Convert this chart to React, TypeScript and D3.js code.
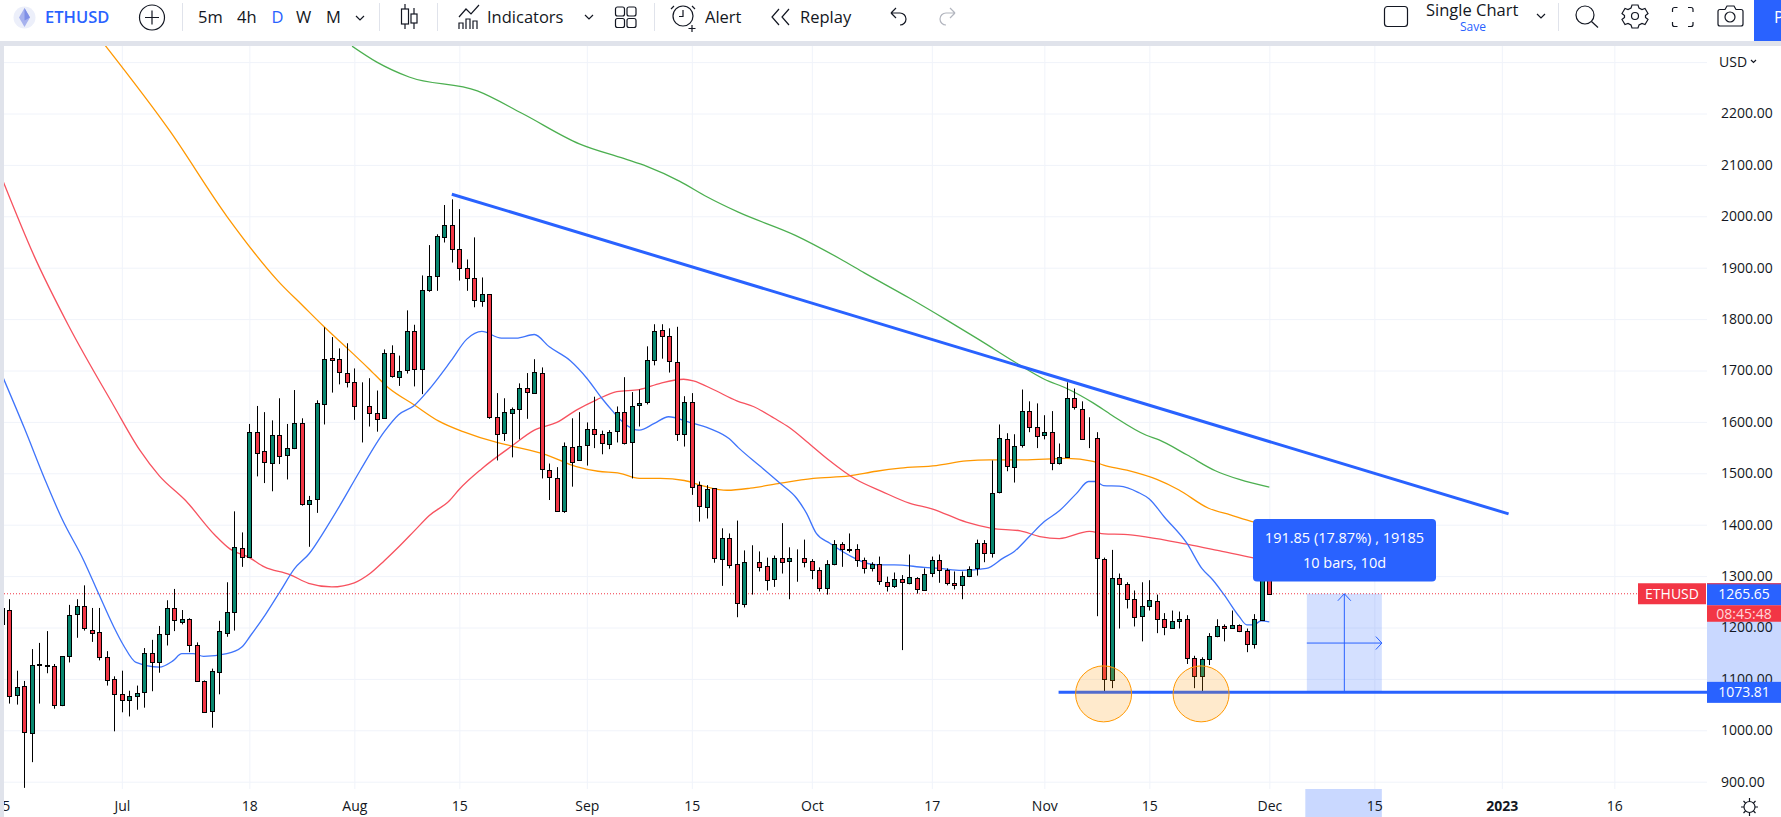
import React, { useRef, useEffect } from "react";
import * as d3 from "d3";

const WIDTH = 1781;
const HEIGHT = 817;
const FONT = "'Open Sans', sans-serif";

const firstBar = -1; // 15 Jun
const opens = [
  1237, 1235, 1068, 1086, 994, 1129, 1127, 1125, 1048, 1144,
  1225, 1241, 1196, 1191, 1142, 1100, 1071, 1059, 1066, 1074,
  1150, 1133, 1187, 1237, 1211, 1216, 1165, 1096, 1038, 1113,
  1191, 1231, 1355, 1338, 1581, 1543, 1520, 1574, 1536, 1549,
  1598, 1441, 1450, 1636, 1725, 1722, 1696, 1677, 1630, 1630,
  1617, 1609, 1735, 1689, 1700, 1776, 1702, 1856, 1883, 1961,
  1984, 1937, 1899, 1879, 1835, 1848, 1609, 1578, 1619, 1624,
  1665, 1658, 1696, 1506, 1490, 1427, 1552, 1527, 1554, 1586,
  1576, 1556, 1582, 1619, 1560, 1632, 1638, 1720, 1778, 1767,
  1717, 1576, 1638, 1477, 1434, 1471, 1335, 1375, 1323, 1245,
  1327, 1327, 1319, 1296, 1336, 1331, 1336, 1336, 1329, 1311,
  1276, 1323, 1362, 1352, 1352, 1331, 1315, 1323, 1288, 1280,
  1294, 1286, 1296, 1274, 1305, 1331, 1311, 1286, 1282, 1300,
  1315, 1364, 1344, 1463, 1566, 1514, 1554, 1621, 1591, 1574,
  1580, 1519, 1531, 1646, 1626, 1568, 1568, 1333, 1097, 1296,
  1284, 1255, 1221, 1241, 1251, 1216, 1198, 1212, 1216, 1140,
  1105, 1138, 1183, 1202, 1198, 1204, 1193, 1167, 1216, 1295,
];
const highs = [
  1237, 1255, 1116, 1096, 1158, 1170, 1193, 1129, 1144, 1244,
  1255, 1282, 1238, 1238, 1154, 1105, 1116, 1077, 1087, 1160,
  1176, 1203, 1253, 1275, 1234, 1218, 1171, 1097, 1120, 1213,
  1288, 1426, 1385, 1596, 1631, 1619, 1603, 1646, 1596, 1662,
  1607, 1456, 1642, 1784, 1765, 1743, 1753, 1704, 1677, 1685,
  1661, 1741, 1749, 1729, 1817, 1789, 1885, 1944, 1965, 2022,
  2033, 2014, 1916, 1959, 1881, 1848, 1656, 1646, 1628, 1675,
  1695, 1722, 1706, 1519, 1512, 1560, 1607, 1619, 1599, 1649,
  1583, 1584, 1630, 1687, 1658, 1663, 1747, 1790, 1790, 1782,
  1785, 1650, 1656, 1484, 1477, 1471, 1393, 1383, 1408, 1350,
  1360, 1348, 1336, 1340, 1403, 1356, 1352, 1371, 1333, 1317,
  1331, 1370, 1366, 1383, 1362, 1336, 1327, 1338, 1299, 1307,
  1302, 1342, 1298, 1315, 1338, 1342, 1315, 1309, 1309, 1319,
  1371, 1370, 1525, 1595, 1578, 1576, 1663, 1640, 1636, 1613,
  1621, 1558, 1677, 1665, 1640, 1609, 1580, 1336, 1351, 1305,
  1288, 1272, 1288, 1292, 1264, 1228, 1233, 1231, 1224, 1145,
  1142, 1189, 1216, 1206, 1233, 1206, 1198, 1226, 1300, 1300,
];
const lows = [
  1205, 1052, 1050, 888, 938, 1052, 1111, 1042, 1047, 1132,
  1180, 1194, 1172, 1136, 1087, 998, 1035, 1027, 1040, 1044,
  1076, 1112, 1165, 1193, 1206, 1152, 1094, 1036, 1005, 1070,
  1182, 1194, 1318, 1336, 1494, 1481, 1465, 1518, 1488, 1547,
  1437, 1357, 1423, 1595, 1657, 1673, 1667, 1604, 1560, 1591,
  1581, 1607, 1686, 1670, 1694, 1669, 1654, 1853, 1855, 1949,
  1910, 1875, 1855, 1823, 1824, 1606, 1525, 1563, 1531, 1566,
  1606, 1655, 1490, 1448, 1425, 1423, 1474, 1527, 1515, 1549,
  1537, 1547, 1560, 1556, 1490, 1591, 1634, 1710, 1723, 1696,
  1563, 1552, 1458, 1406, 1412, 1326, 1281, 1315, 1220, 1239,
  1264, 1309, 1272, 1279, 1305, 1255, 1289, 1317, 1294, 1270,
  1264, 1321, 1318, 1346, 1318, 1305, 1309, 1283, 1270, 1277,
  1156, 1284, 1266, 1273, 1298, 1287, 1282, 1274, 1255, 1298,
  1301, 1327, 1336, 1461, 1504, 1482, 1550, 1580, 1549, 1566,
  1506, 1517, 1531, 1624, 1566, 1549, 1222, 1075, 1082, 1198,
  1237, 1202, 1173, 1233, 1189, 1185, 1198, 1198, 1129, 1082,
  1075, 1127, 1181, 1173, 1198, 1191, 1152, 1159, 1214, 1265.65,
];
const closes = [
  1205, 1068, 1084, 996, 1127, 1127, 1125, 1049, 1144, 1224,
  1241, 1198, 1190, 1142, 1098, 1071, 1059, 1067, 1072, 1150,
  1133, 1187, 1237, 1214, 1216, 1165, 1095, 1036, 1115, 1193,
  1231, 1357, 1338, 1581, 1541, 1522, 1574, 1534, 1549, 1598,
  1441, 1449, 1636, 1723, 1722, 1696, 1679, 1630, 1630, 1617,
  1605, 1735, 1690, 1700, 1776, 1702, 1856, 1883, 1961, 1984,
  1938, 1901, 1879, 1837, 1848, 1608, 1575, 1619, 1626, 1665,
  1658, 1698, 1510, 1492, 1425, 1554, 1523, 1554, 1586, 1576,
  1558, 1580, 1619, 1558, 1630, 1636, 1720, 1776, 1767, 1718,
  1576, 1638, 1473, 1436, 1469, 1335, 1375, 1323, 1247, 1327,
  1327, 1317, 1292, 1336, 1329, 1336, 1336, 1329, 1311, 1276,
  1323, 1362, 1352, 1351, 1331, 1315, 1323, 1290, 1280, 1294,
  1288, 1298, 1274, 1305, 1331, 1311, 1286, 1282, 1300, 1313,
  1364, 1344, 1461, 1568, 1514, 1554, 1621, 1589, 1574, 1580,
  1519, 1531, 1646, 1628, 1568, 1568, 1335, 1099, 1296, 1284,
  1255, 1220, 1241, 1253, 1216, 1200, 1212, 1216, 1141, 1105,
  1138, 1183, 1202, 1198, 1204, 1193, 1167, 1216, 1295, 1265.65,
];

// moving averages as [bar, price]
const blueMa = [
  [-0.8, 1685], [2, 1588], [4.8, 1486], [7, 1412], [9.9, 1331], [11.9, 1266], [13.9, 1202], [15.2, 1166],
  [16.9, 1132], [20, 1123], [21.8, 1135], [23, 1149], [24.5, 1149], [25.9, 1144], [29, 1149], [31, 1162],
  [32.1, 1183], [34.1, 1224], [36.1, 1270], [38, 1314], [40, 1344], [42.1, 1390], [44.1, 1438], [46.8, 1506],
  [50, 1581], [51.9, 1614], [54, 1632], [55.9, 1662], [58.9, 1719], [61, 1761], [63, 1776], [65.6, 1763],
  [67.6, 1763], [70, 1770], [72, 1746], [74.8, 1719], [77, 1685], [79, 1646], [80.5, 1620], [82, 1597],
  [84, 1584], [86, 1597], [87.9, 1610], [90.5, 1600], [93.4, 1587], [96, 1567], [97.2, 1550], [100, 1515],
  [102.8, 1480], [105, 1451], [106.3, 1422], [107.6, 1383], [109.4, 1364], [111.9, 1341], [114.3, 1325], [116, 1322],
  [118, 1322], [122, 1317], [124, 1315], [127, 1311], [130.3, 1315], [132.5, 1335], [134, 1348], [136, 1377],
  [138, 1406], [140, 1427], [142.3, 1461], [143.9, 1484], [144.8, 1484], [145.9, 1476], [148, 1475], [150.5, 1463],
  [152, 1450], [154, 1415], [157, 1364], [159, 1315], [160.5, 1292], [162, 1263], [164, 1221], [165, 1205],
  [165.9, 1205], [166.9, 1213], [168, 1211],
];
const redMa = [
  [-0.8, 2067], [3.3, 1923], [7.8, 1790], [13.9, 1632], [17.4, 1545], [20, 1495], [23.5, 1447], [27.4, 1380],
  [29.4, 1353], [32, 1336], [34, 1318], [37.4, 1303], [39.9, 1286], [43, 1279], [46, 1287], [48, 1304],
  [50, 1330], [52, 1358], [54, 1388], [56, 1418], [58.7, 1447], [60, 1469], [63, 1509], [67, 1553],
  [70, 1584], [73, 1599], [75.6, 1623], [78.3, 1643], [81, 1659], [84, 1663], [86.8, 1675], [89.9, 1683],
  [91.2, 1680], [94, 1662], [97, 1641], [99.2, 1630], [102, 1607], [104, 1589], [106.3, 1562], [109, 1529],
  [112.8, 1489], [116.3, 1465], [120, 1442], [123, 1431], [127.6, 1405], [131, 1393], [134.8, 1388], [137.4, 1377],
  [140, 1373], [144, 1387], [146, 1382], [148.6, 1381], [151.7, 1376], [157, 1362], [161.7, 1348], [165.7, 1336],
  [168, 1328],
];
const orangeMa = [
  [12.8, 2332], [21.4, 2166], [29, 2000], [35.9, 1873], [39.2, 1825], [41.9, 1786], [45, 1744], [47.9, 1704],
  [50.5, 1667], [54, 1633], [57.2, 1602], [60.5, 1581], [65, 1560], [67, 1553], [71.6, 1536], [75.6, 1513],
  [78.5, 1504], [81.4, 1500], [84, 1490], [86.8, 1490], [90, 1486], [92.6, 1475], [95.7, 1467], [98.8, 1471],
  [102.5, 1480], [107.2, 1490], [112, 1495], [115.6, 1504], [118.8, 1510], [123.6, 1515], [127.6, 1524], [130.7, 1526],
  [135.2, 1526], [141, 1529], [144.5, 1523], [145.9, 1516], [149, 1506], [153, 1488], [155.9, 1468], [159.9, 1432],
  [162.8, 1419], [166, 1405], [168, 1398],
];
const greenMa = [
  [45.7, 2331], [49, 2300], [53.3, 2271], [62.4, 2244], [68.4, 2200], [76, 2141], [82, 2112], [85, 2097],
  [89.4, 2068], [93, 2038], [97.2, 2008], [104.8, 1963], [110.8, 1917], [114, 1890], [120, 1841], [125, 1798],
  [129.4, 1759], [134, 1717], [138, 1683], [141, 1665], [144.5, 1637], [147, 1613], [151.6, 1574], [153.3, 1565],
  [157, 1536], [160.8, 1505], [164, 1488], [168, 1473],
];

const trendLine = [[59, 2043], [199.9, 1421]];
const supportPrice = 1073.81;
const supportStart = 139.9;
const lastPrice = 1265.65;
const circleBars = [145.9, 158.9];
const measureBars = [173, 183];

const priceLabels = [900, 1000, 1100, 1200, 1300, 1400, 1500, 1600, 1700, 1800, 1900, 2000, 2100, 2200];
const gridPrices = [...priceLabels, 2300];
const timeBars = [-1, 15, 32, 46, 60, 77, 91, 107, 123, 138, 152, 168, 182, 199, 214];
const timeLabels = ["15", "Jul", "18", "Aug", "15", "Sep", "15", "Oct", "17", "Nov", "15", "Dec", "15", "2023", "16"];

const INK = "#131722";
const BLUE = "#2962ff";
const RED = "#f23645";
const CANDLE_GREEN = "#08876f";
const PLOT = { left: 4, right: 1707, top: 46, bottom: 789 };

const Icon = ({ d, sw = 1.2, stroke = INK }: { d: string; sw?: number; stroke?: string }) => (
  <path d={d} fill="none" stroke={stroke} strokeWidth={sw} />
);

const Label = ({ x, t, c = INK, s = 16.5, y = 23, w = 400, a = "start" }: any) => (
  <text x={x} y={y} fill={c} fontSize={s} fontWeight={w} textAnchor={a}>
    {t}
  </text>
);

// Top toolbar, plain svg
const Toolbar = () => (
  <g fontFamily={FONT}>
    <rect x={0} y={0} width={WIDTH} height={41} fill="#fff" />
    <rect x={0} y={41} width={WIDTH} height={5} fill="#e0e3eb" />
    <circle cx={24.5} cy={17.5} r={11} fill="#eceffa" />
    <path d="M24.5 8l5.5 9.5-5.5 9.5-5.5-9.5z" fill="#a7b2ee" />
    <path d="M24.5 8l5.5 9.5-5.5 3z" fill="#7f8fe6" />
    <Label x={45} t="ETHUSD" c={BLUE} s={16.5} w={600} />
    <circle cx={152} cy={17.5} r={12.5} fill="none" stroke={INK} strokeWidth={1.2} />
    <Icon d="M152 10.5v14M145 17.5h14" />
    <Label x={198} t="5m" />
    <Label x={237} t="4h" />
    <Label x={271.5} t="D" c={BLUE} />
    <Label x={296} t="W" />
    <Label x={326} t="M" />
    <Icon d="M356 16l4 4 4-4" />
    <Icon d="M405 4v5M405 24v5M414 8v6M414 23v6" />
    <rect x={401.5} y={9} width={7} height={15} fill="none" stroke={INK} strokeWidth={1.2} />
    <rect x={411} y={14} width={6} height={9} fill="none" stroke={INK} strokeWidth={1.2} />
    <Icon d="M459 17l7-8 5 5 8-9M459 29v-6h4v6M466 29v-10h4v10M473 29v-8h4v8" />
    <Label x={487} t="Indicators" />
    <Icon d="M585 15l4 4 4-4" />
    <rect x={615.5} y={7} width={9} height={9} rx={2} fill="none" stroke={INK} strokeWidth={1.2} />
    <rect x={627} y={7} width={9} height={9} rx={2} fill="none" stroke={INK} strokeWidth={1.2} />
    <rect x={615.5} y={18.5} width={9} height={9} rx={2} fill="none" stroke={INK} strokeWidth={1.2} />
    <rect x={627} y={18.5} width={9} height={9} rx={2} fill="none" stroke={INK} strokeWidth={1.2} />
    <circle cx={683} cy={16} r={10} fill="none" stroke={INK} strokeWidth={1.2} />
    <Icon d="M683 10v6.5h-4M674 6l-3 3M692 6l3 3M692 25v7M688.500 28.500h7" />
    <Label x={705} t="Alert" />
    <Icon d="M779 9l-7 8 7 8M789 9l-7 8 7 8" />
    <Label x={800} t="Replay" />
    <Icon d="M891 13h9a6 6 0 0 1 0 12M891 13l5-5M891 13l5 5" />
    <Icon d="M955 13h-9a6 6 0 0 0 0 12M955 13l-5-5M955 13l-5 5" stroke="#b2b5be" />
    <rect x={1384.500} y={6.500} width={23} height={20} rx={3} fill="none" stroke={INK} strokeWidth={1.2} />
    <Label x={1426} y={16} t="Single Chart" s={16.5} />
    <Label x={1473} y={31} t="Save" c={BLUE} s={12} a="middle" />
    <Icon d="M1537 14l4 4 4-4" />
    <Icon d="M1591.500 21.500l6.500 6" />
    <circle cx={1585} cy={15} r={9} fill="none" stroke={INK} strokeWidth={1.2} />
    <circle cx={1635} cy={16} r={3.500} fill="none" stroke={INK} strokeWidth={1.2} />
    <path
      d="M1632 5h6l1 3 3 1.500 3-1 3 5-2.500 2v2l2.500 2-3 5-3-1-3 1.500-1 3h-6l-1-3-3-1.500-3 1-3-5 2.500-2v-2l-2.500-2 3-5 3 1 3-1.500z"
      fill="none"
      stroke={INK}
      strokeWidth={1.2}
    />
    <Icon d="M1672.500 12V9.500a2 2 0 0 1 2-2h3M1688 7.500h3a2 2 0 0 1 2 2V12M1693 22v2.500a2 2 0 0 1-2 2h-3M1677.500 26.500h-3a2 2 0 0 1-2-2V22" />
    <path
      d="M1720 9.500h5l2-3.500h7l2 3.500h5a2 2 0 0 1 2 2V24a2 2 0 0 1-2 2h-21a2 2 0 0 1-2-2V11.500a2 2 0 0 1 2-2z"
      fill="none"
      stroke={INK}
      strokeWidth={1.2}
    />
    <circle cx={1730} cy={17} r={5} fill="none" stroke={INK} strokeWidth={1.2} />
    {[182.5, 379.5, 437.5, 654.5, 1558.5].map((sx) => (
      <line key={sx} x1={sx} x2={sx} y1={3} y2={31} stroke="#e0e3eb" />
    ))}
    <rect x={1754} y={0} width={27} height={41} fill={BLUE} />
    <Label x={1774} t="P" c="#fff" s={16.5} />
  </g>
);

const App = () => {
  const chartRef = useRef<SVGGElement | null>(null);

  useEffect(() => {
    if (!chartRef.current) return;
    const svg = d3.select(chartRef.current);
    svg.selectAll("*").remove();

    const x = d3.scaleLinear().domain([-1, 214]).range([1.83, 1614.33]);
    const y = d3.scaleLinear().domain([900, 2200]).range([781.7, 113.5]);
    const yLast = y(lastPrice);
    const ySupport = y(supportPrice);

    svg
      .append("clipPath")
      .attr("id", "plot-clip")
      .append("rect")
      .attr("x", PLOT.left)
      .attr("y", PLOT.top)
      .attr("width", PLOT.right - PLOT.left)
      .attr("height", PLOT.bottom - PLOT.top);

    const plot = svg.append("g").attr("clip-path", "url(#plot-clip)");

    // Grid lines
    plot
      .append("g")
      .attr("transform", `translate(${PLOT.right},0)`)
      .call(d3.axisLeft(y).tickValues(gridPrices).tickSize(PLOT.right - PLOT.left).tickFormat(() => ""))
      .call((g) => g.select(".domain").remove())
      .selectAll("line")
      .attr("stroke", "#f0f3fa");
    plot
      .append("g")
      .attr("transform", `translate(0,${PLOT.bottom})`)
      .call(d3.axisTop(x).tickValues(timeBars).tickSize(PLOT.bottom - PLOT.top).tickFormat(() => ""))
      .call((g) => g.select(".domain").remove())
      .selectAll("line")
      .attr("stroke", "#f0f3fa");

    // Moving averages
    const maLine = d3
      .line<number[]>()
      .x((d) => x(d[0]))
      .y((d) => y(d[1]))
      .curve(d3.curveMonotoneX);
    const maSeries: [number[][], string][] = [
      [greenMa, "#4caf50"],
      [orangeMa, "#ff9800"],
      [redMa, "#f7525f"],
      [blueMa, "#3f74fb"],
    ];
    maSeries.forEach(([pts, color]) => {
      plot
        .append("path")
        .attr("d", maLine(pts))
        .attr("fill", "none")
        .attr("stroke", color)
        .attr("stroke-width", 1.3);
    });

    // Last price line
    plot
      .append("line")
      .attr("x1", PLOT.left)
      .attr("x2", 1638)
      .attr("y1", yLast)
      .attr("y2", yLast)
      .attr("stroke", RED)
      .attr("stroke-dasharray", "1,2");

    // Candles
    const bars = opens.map((o, i) => ({
      bar: firstBar + i,
      o,
      h: highs[i],
      l: lows[i],
      c: closes[i],
    }));
    const cx = (bar: number) => Math.round(x(bar)) + 0.5;
    const candles = plot.append("g").selectAll("g").data(bars).enter().append("g");
    candles
      .append("line")
      .attr("x1", (d) => cx(d.bar))
      .attr("x2", (d) => cx(d.bar))
      .attr("y1", (d) => y(d.h))
      .attr("y2", (d) => y(d.l))
      .attr("stroke", "#000");
    candles
      .append("rect")
      .attr("x", (d) => cx(d.bar) - 2)
      .attr("width", 4)
      .attr("y", (d) => Math.round(y(Math.max(d.o, d.c))) + 0.5)
      .attr("height", (d) => Math.round(Math.abs(y(d.o) - y(d.c))))
      .attr("fill", (d) => (d.c >= d.o ? CANDLE_GREEN : RED))
      .attr("stroke", "#000");

    // Measure tool
    const mx0 = x(measureBars[0]);
    const mx1 = x(measureBars[1]);
    const mxMid = (mx0 + mx1) / 2;
    const myMid = (yLast + ySupport) / 2;
    plot
      .append("rect")
      .attr("x", mx0)
      .attr("y", yLast)
      .attr("width", mx1 - mx0)
      .attr("height", ySupport - yLast)
      .attr("fill", BLUE)
      .attr("fill-opacity", 0.2);
    plot
      .append("path")
      .attr(
        "d",
        `M${mxMid},${ySupport}V${yLast}M${mxMid - 6.5},${yLast + 7}L${mxMid},${yLast}L${mxMid + 6.5},${yLast + 7}` +
          `M${mx0},${myMid}H${mx1}M${mx1 - 6},${myMid - 6.5}L${mx1},${myMid}L${mx1 - 6},${myMid + 6.5}`
      )
      .attr("fill", "none")
      .attr("stroke", BLUE)
      .attr("stroke-width", 1);

    // Drawn trend lines
    plot
      .append("path")
      .attr(
        "d",
        d3
          .line<number[]>()
          .x((d) => x(d[0]))
          .y((d) => y(d[1]))(trendLine)
      )
      .attr("stroke", BLUE)
      .attr("stroke-width", 3);
    plot
      .append("line")
      .attr("x1", x(supportStart))
      .attr("x2", PLOT.right)
      .attr("y1", ySupport)
      .attr("y2", ySupport)
      .attr("stroke", BLUE)
      .attr("stroke-width", 3);

    // Circles on the two lows
    plot
      .selectAll(".low-circle")
      .data(circleBars)
      .enter()
      .append("circle")
      .attr("class", "low-circle")
      .attr("cx", (d) => x(d))
      .attr("cy", ySupport + 1.5)
      .attr("r", 28)
      .attr("fill", "#ff9800")
      .attr("fill-opacity", 0.2)
      .attr("stroke", "#ff9800")
      .attr("stroke-width", 1);

    // Measure tooltip
    plot
      .append("rect")
      .attr("x", 1253)
      .attr("y", 519)
      .attr("width", 183)
      .attr("height", 62.5)
      .attr("rx", 4)
      .attr("fill", BLUE);
    const tip = plot
      .append("g")
      .attr("font-family", FONT)
      .attr("font-size", 14.5)
      .attr("fill", "#fff")
      .attr("text-anchor", "middle");
    tip.append("text").attr("x", 1344.5).attr("y", 543).text("191.85 (17.87%) , 19185");
    tip.append("text").attr("x", 1344.5).attr("y", 568).text("10 bars, 10d");

    // Axis highlights
    svg
      .append("rect")
      .attr("x", PLOT.right)
      .attr("y", yLast)
      .attr("width", WIDTH - PLOT.right)
      .attr("height", ySupport - yLast)
      .attr("fill", BLUE)
      .attr("fill-opacity", 0.25);
    svg
      .append("rect")
      .attr("x", mx0 - 1.5)
      .attr("y", PLOT.bottom)
      .attr("width", mx1 - mx0 + 1.5)
      .attr("height", HEIGHT - PLOT.bottom)
      .attr("fill", BLUE)
      .attr("fill-opacity", 0.25);

    // Price axis
    const priceAxis = svg
      .append("g")
      .attr("transform", `translate(${PLOT.right},0)`)
      .call(d3.axisRight(y).tickValues(priceLabels).tickSize(0).tickPadding(14).tickFormat((d) => (d as number).toFixed(2)));
    priceAxis.select(".domain").remove();
    priceAxis
      .selectAll("text")
      .style("font-family", FONT)
      .style("font-size", "14px")
      .style("fill", INK);

    // Time axis
    const timeAxis = svg
      .append("g")
      .attr("transform", `translate(0,${PLOT.bottom})`)
      .call(
        d3
          .axisBottom(x)
          .tickValues(timeBars)
          .tickSize(0)
          .tickPadding(12)
          .tickFormat((d) => timeLabels[timeBars.indexOf(d as number)])
      );
    timeAxis.select(".domain").remove();
    timeAxis
      .selectAll("text")
      .style("font-family", FONT)
      .style("font-size", "14px")
      .style("fill", INK)
      .style("font-weight", (d) => (d === 199 ? 700 : 400));

    // Price tags
    const tag = (tx: number, ty: number, w: number, h: number, fill: string, label: string, color = "#fff") => {
      svg.append("rect").attr("x", tx).attr("y", ty).attr("width", w).attr("height", h).attr("fill", fill);
      svg
        .append("text")
        .attr("x", tx + w / 2)
        .attr("y", ty + h / 2 + 5)
        .attr("text-anchor", "middle")
        .attr("font-family", FONT)
        .attr("font-size", 14)
        .attr("fill", color)
        .text(label);
    };
    tag(1638, yLast - 10.5, 68, 21, RED, "ETHUSD");
    tag(PLOT.right, yLast - 10.5, WIDTH - PLOT.right, 22, BLUE, "1265.65");
    svg
      .append("rect")
      .attr("x", PLOT.right)
      .attr("y", yLast - 10.5)
      .attr("width", WIDTH - PLOT.right)
      .attr("height", 1)
      .attr("fill", RED);
    tag(PLOT.right, yLast + 11.5, WIDTH - PLOT.right, 16.5, RED, "08:45:48", "#ffd6da");
    tag(PLOT.right, ySupport - 10.5, WIDTH - PLOT.right, 21, BLUE, "1073.81");

    // Left strip
    svg.append("rect").attr("x", 0).attr("y", PLOT.top).attr("width", PLOT.left).attr("height", HEIGHT - PLOT.top).attr("fill", "#e0e3eb");
  }, []);

  return (
    <svg width={WIDTH} height={HEIGHT} style={{ position: "absolute", left: 0, top: 0, display: "block", background: "#fff" }}>
      <g ref={chartRef} />
      <Toolbar />
      <g fontFamily={FONT}>
        <text x={1719} y={67} fontSize={14} fill={INK}>USD</text>
        <Icon d="M1751 60l2.500 2.500 2.500-2.500" />
        {/* settings icon in the corner */}
        <circle cx={1749.500} cy={807} r={5.500} fill="none" stroke={INK} strokeWidth={1.2} />
        <Icon d="M1749.500 798v3M1749.500 813v3M1741 807h3M1755 807h3M1743.500 801l2 2M1753.500 811l2 2M1755.500 801l-2 2M1745.500 811l-2 2" />
      </g>
    </svg>
  );
};

export default App;
